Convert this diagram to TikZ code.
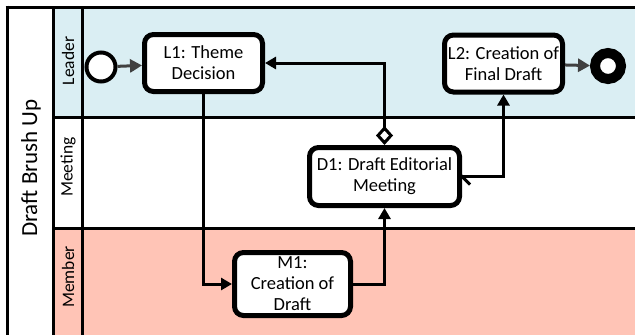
\documentclass[tikz,border=0pt]{standalone}
\usepackage{fontspec}
\setmainfont{Carlito}
\usetikzlibrary{arrows.meta}
\usetikzlibrary{calc}
\definecolor{leaderblue}{HTML}{DAEEF3}
\definecolor{membersalmon}{HTML}{FFC4B6}
\definecolor{flowgray}{HTML}{404040}
\newcommand{\tasksize}{\fontsize{18.5}{21}\selectfont}
\newcommand{\lanesize}{\fontsize{17.5}{20}\selectfont}
\newcommand{\poolsize}{\fontsize{23}{27}\selectfont}
\tikzset{
  laneline/.style={line width=3pt},
  lanelabel/.style={rotate=90, font=\lanesize, inner sep=0pt},
  task/.style={draw, line width=5pt, rounded corners=9pt, fill=white, align=center, font=\tasksize, inner sep=0pt},
  flow/.style={line width=3pt, -{Triangle[length=11pt,width=12pt]}},
  startflow/.style={line width=3pt, draw=flowgray, -{Triangle[length=12pt,width=13pt,fill=flowgray]}},
}

\begin{document}
\begin{tikzpicture}[x=1pt, y=-1pt]
    \useasboundingbox (0,0) rectangle (635,335);
    \fill[white] (0,0) rectangle (635,335);
    \fill[leaderblue] (53,7) rectangle (635,117);
    \fill[membersalmon] (53,228) rectangle (635,335);
    \draw[laneline] (5.5,7) -- (635,7);
    \draw[laneline] (7,5.5) -- (7,335);
    \draw[laneline] (53,7) -- (53,335);
    \draw[laneline] (82,7) -- (82,335);
    \draw[laneline] (53,117) -- (635,117);
    \draw[laneline] (53,228) -- (635,228);
    \node[rotate=90, font=\poolsize, inner sep=0pt] (pool) at (31,168) {Draft Brush Up};
    \node[lanelabel] (leader) at (68,61) {Leader};
    \node[lanelabel] (meeting) at (68,167) {Meeting};
    \node[lanelabel] (member) at (68,277) {Member};

    \node[draw, circle, line width=4pt, fill=white, minimum size=29pt, inner sep=0pt] (start) at (101,67) {};
    \node[task, minimum width=118pt, minimum height=57pt] (L1) at (203.5,63) {L1: Theme\\Decision};
    \node[task, minimum width=118pt, minimum height=57pt] (L2) at (503.5,63.5) {L2: Creation of\\Final Draft};
    \node[task, minimum width=150pt, minimum height=58pt] (D1) at (384.5,176.5) {D1: Draft Editorial\\Meeting};
    \node[task, minimum width=116pt, minimum height=63pt] (M1) at (292.5,284) {M1:\\Creation of\\Draft};
    \node[draw, circle, line width=10pt, fill=white, minimum size=26pt, inner sep=0pt] (end) at (608,66) {};

    \draw[startflow] (start) -- (L1);
    \draw[flow] (L1.south) |- (M1.west);
    \draw[flow] (M1.east) -| (D1.south);
    \draw[line width=3pt, {Diamond[open, fill=white, length=19pt, width=17pt]}-{Triangle[length=11pt,width=12pt]}] (D1.north) |- (L1.east);
    \draw[flow] (D1.east) -| (L2.south);
    \draw[line width=3pt] ($(D1.east)+(-2,-2)$) -- ++(10,10);
    \draw[startflow] (L2) -- (end);
\end{tikzpicture}
\end{document}
